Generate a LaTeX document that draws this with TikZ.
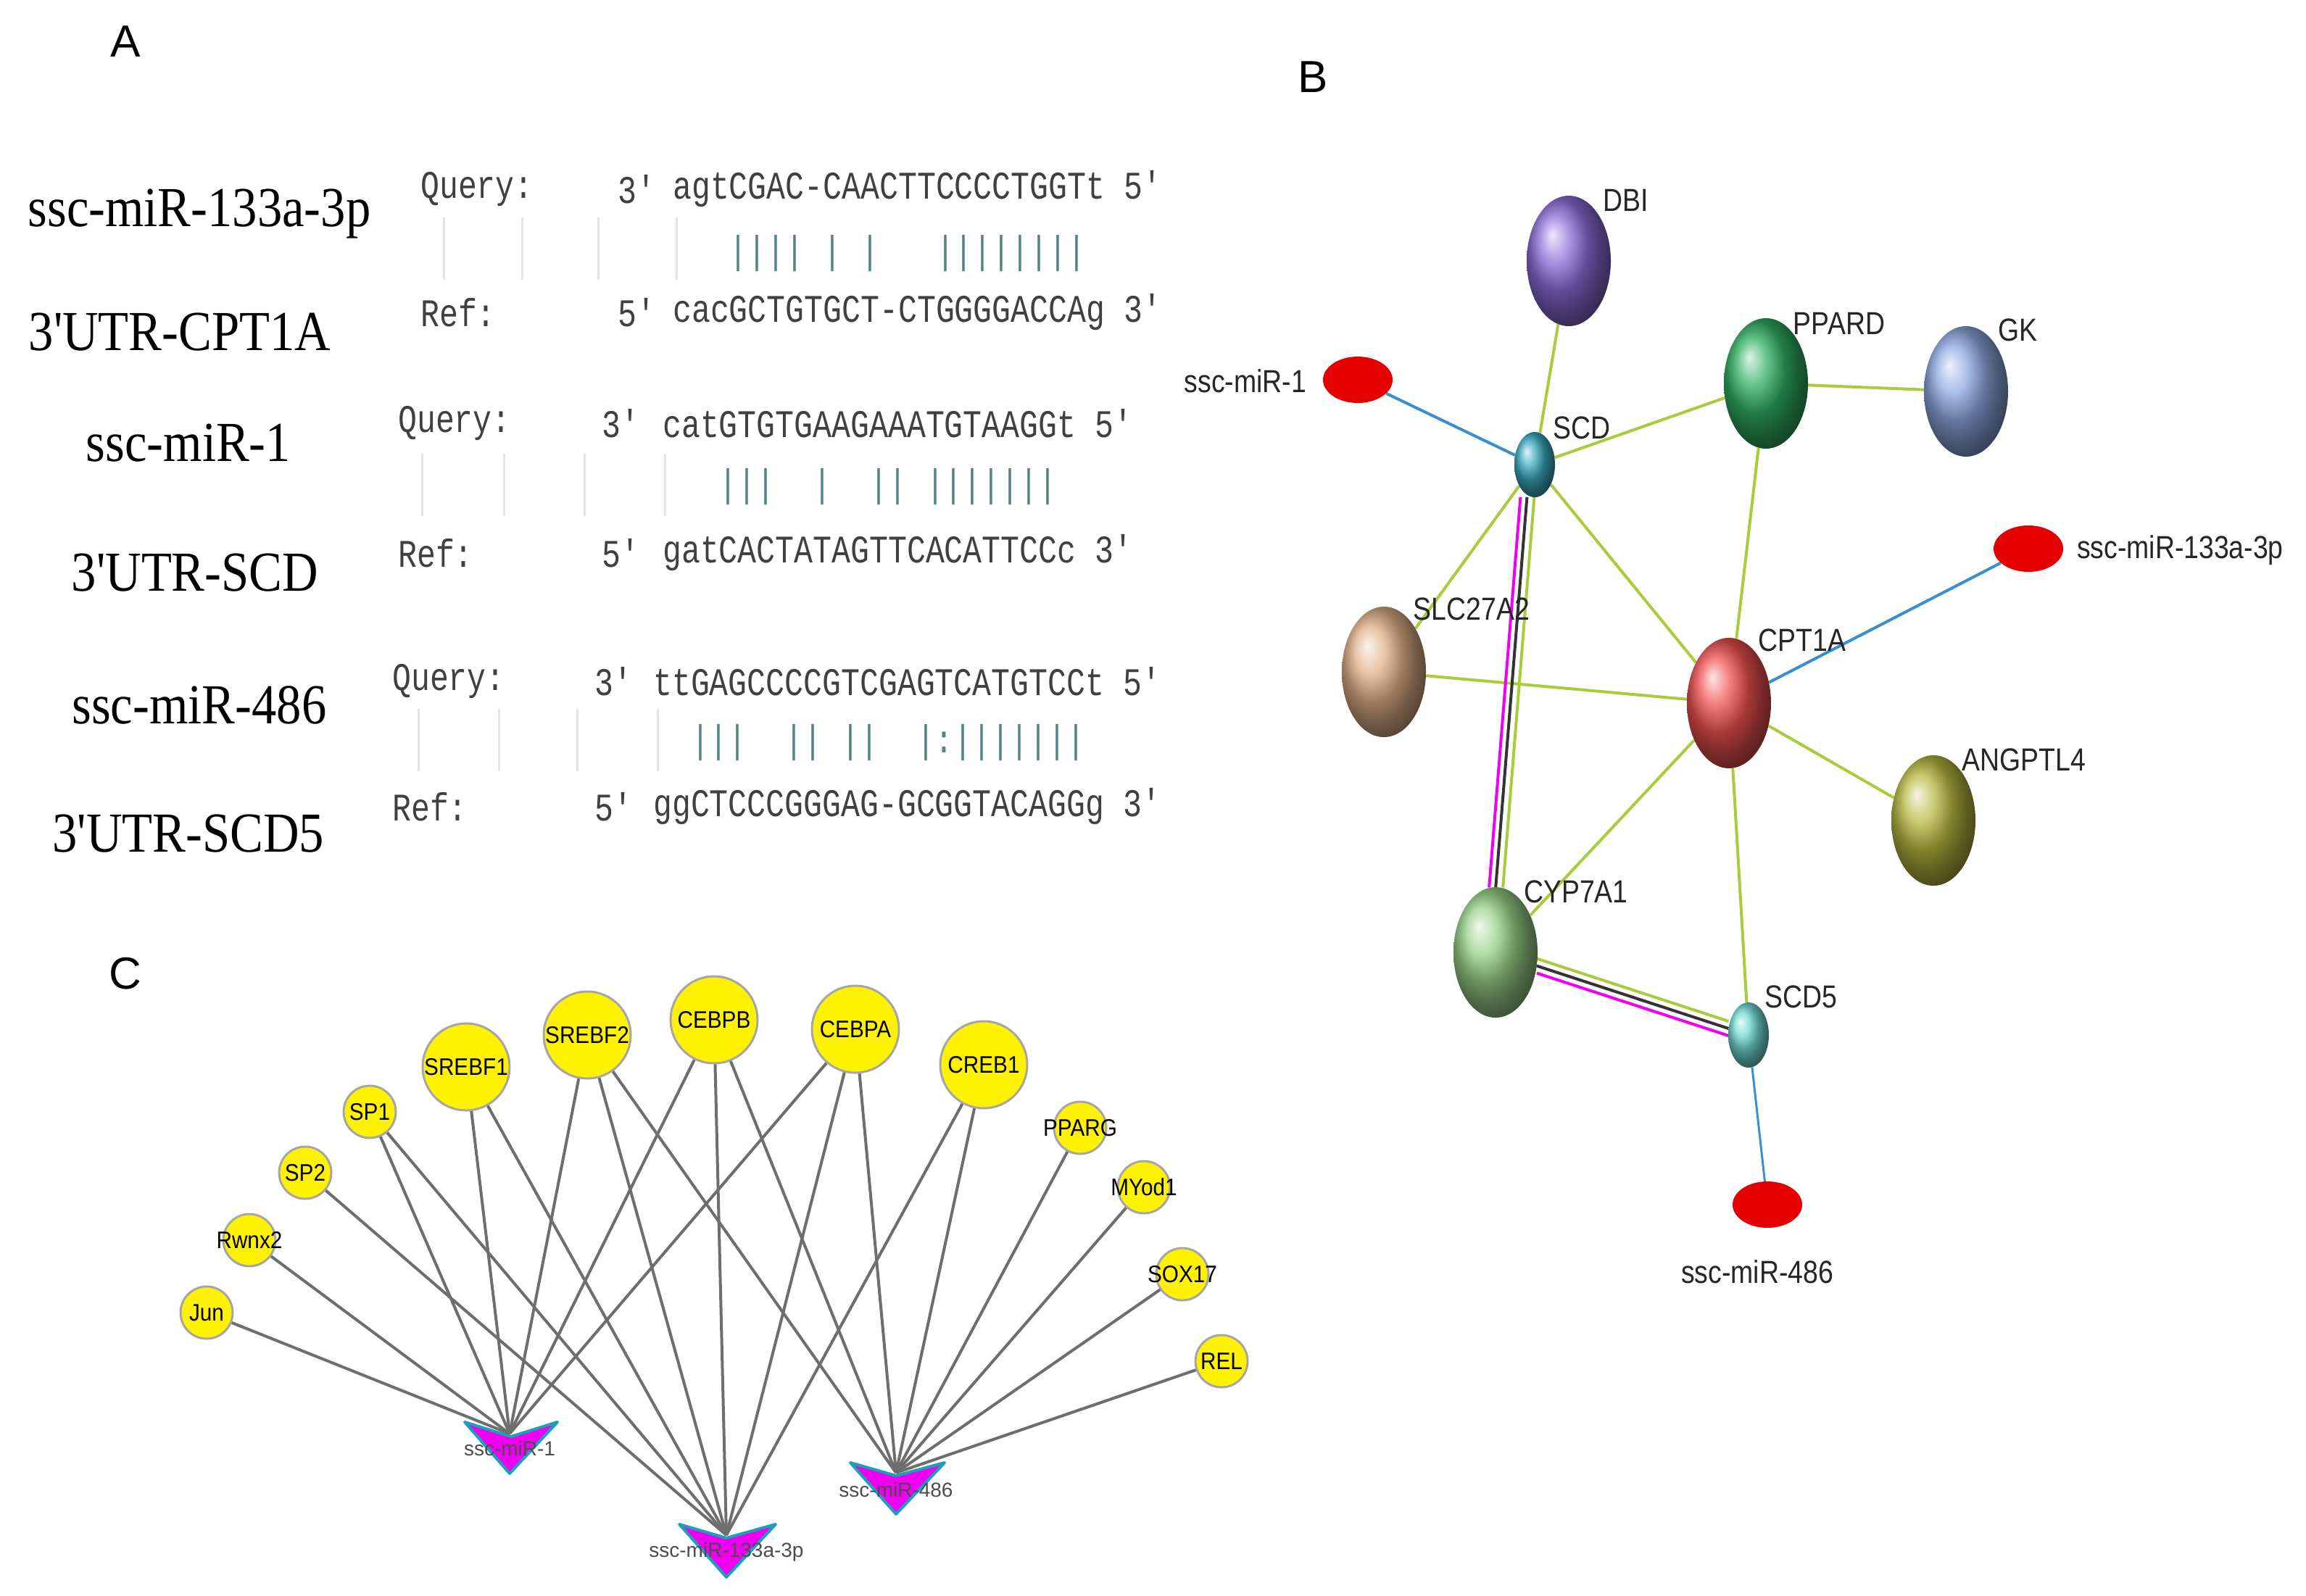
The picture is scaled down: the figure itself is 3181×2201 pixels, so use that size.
\documentclass[tikz,border=0pt]{standalone}
\usepackage{fontspec}
\setmainfont{Liberation Serif}
\newfontfamily\sansf{Liberation Sans}
\newfontfamily\monof{Liberation Mono}
\usetikzlibrary{shapes.geometric,backgrounds}
\definecolor{lg}{HTML}{A8CC3C}
\definecolor{lb}{HTML}{3A8FD0}
\definecolor{barc}{HTML}{4F8585}
\definecolor{eg}{HTML}{6E6E6E}
\definecolor{mag}{HTML}{F000F0}
\definecolor{cy}{HTML}{1AA0B8}
\definecolor{cdbi}{HTML}{8A6CD8}
\definecolor{cppard}{HTML}{2EB060}
\definecolor{cgk}{HTML}{8CA8E0}
\definecolor{cscd}{HTML}{3AAAC0}
\definecolor{cslc}{HTML}{E0B088}
\definecolor{ccpt}{HTML}{F05050}
\definecolor{cang}{HTML}{B8B840}
\definecolor{ccyp}{HTML}{98D088}
\definecolor{cscdf}{HTML}{70D8D0}
\def\s{\phantom{a}}
\def\ap{\textquotesingle}
\begin{document}
\begin{tikzpicture}[x=1pt,y=-1pt,
  panel/.style={font=\sansf\fontsize{62}{62}\selectfont},
  mlab/.style={font=\fontsize{78}{78}\selectfont, xscale=0.88},
  seq/.style={anchor=west, inner sep=0, font=\monof\fontsize{54}{54}\selectfont, xscale=0.8, text=black!75},
  bars/.style={seq, text=barc},
  faint/.style={draw=black!10, line width=3},
  ball/.style={ellipse, minimum width=116, minimum height=180, inner sep=0, draw=none},
  sball/.style={ellipse, minimum width=56, minimum height=90, inner sep=0, draw=none},
  mir/.style={ellipse, minimum width=96, minimum height=64, fill=red!90!black, inner sep=0},
  blab/.style={font=\sansf\fontsize{44}{44}\selectfont, xscale=0.85, text=black!85},
  gl/.style={lg, line width=4},
  bl/.style={lb, line width=4},
  yc/.style={circle, fill=yellow, draw=black!35, line width=3, inner sep=0},
  ysm/.style={yc, minimum size=72},
  ybg/.style={yc, minimum size=120},
  clab/.style={font=\sansf\fontsize{33}{33}\selectfont, xscale=0.9},
  ce/.style={eg, line width=4},
  tri/.style={fill=mag, draw=cy, line width=4, line join=round},
  tlab/.style={font=\sansf\fontsize{28}{28}\selectfont, text=black!70}
]
\useasboundingbox (0,0) rectangle (3181,2201);
% ---------- Panel A ----------
\node[panel] (pA) at (173,57) {A};
\node[mlab] (m1) at (275,295) {ssc-miR-133a-3p};
\node[mlab] (u1) at (248,458) {3\ap UTR-CPT1A};
\node[mlab] (m2) at (260,611) {ssc-miR-1};
\node[mlab] (u2) at (269,790) {3\ap UTR-SCD};
\node[mlab] (m3) at (275,973) {ssc-miR-486};
\node[mlab] (u3) at (260,1150) {3\ap UTR-SCD5};

\node[seq] (q1) at (580,261) {Query:};
\node[seq] (q1a) at (852,261) {3'};
\node[seq] (q1s) at (928,261) {agtCGAC-CAACTTCCCCTGGTt 5'};
\node[bars] (b1) at (928,350) {\s\s\s||||\s|\s|\s\s\s||||||||};
\node[seq] (r1) at (580,431) {Ref:};
\node[seq] (r1a) at (852,431) {5'};
\node[seq] (r1s) at (928,431) {cacGCTGTGCT-CTGGGGACCAg 3'};

\node[seq] (q2) at (549,584) {Query:};
\node[seq] (q2a) at (830,584) {3'};
\node[seq] (q2s) at (914,584) {catGTGTGAAGAAATGTAAGGt 5'};
\node[bars] (b2) at (914,672) {\s\s\s|||\s\s|\s\s||\s|||||||};
\node[seq] (r2) at (549,763) {Ref:};
\node[seq] (r2a) at (830,763) {5'};
\node[seq] (r2s) at (914,763) {gatCACTATAGTTCACATTCCc 3'};

\node[seq] (q3) at (541,940) {Query:};
\node[seq] (q3a) at (820,940) {3'};
\node[seq] (q3s) at (901,940) {ttGAGCCCCGTCGAGTCATGTCCt 5'};
\node[bars] (b3) at (901,1025) {\s\s|||\s\s||\s||\s\s|:|||||||};
\node[seq] (r3) at (541,1113) {Ref:};
\node[seq] (r3a) at (820,1113) {5'};
\node[seq] (r3s) at (901,1113) {ggCTCCCGGGAG-GCGGTACAGGg 3'};

\foreach \x in {612,720,825,933} \draw[faint] (\x,300) -- (\x,386);
\foreach \x in {582,695,806,917} \draw[faint] (\x,626) -- (\x,712);
\foreach \x in {577,688,796,907} \draw[faint] (\x,978) -- (\x,1064);

% ---------- Panel B ----------
\node[panel] (pB) at (1811,106) {B};
\node[ball, ball color=cdbi] (dbi) at (2164,360) {};
\node[ball, ball color=cppard] (ppard) at (2436,529) {};
\node[ball, ball color=cgk] (gk) at (2712,540) {};
\node[sball, ball color=cscd] (scd) at (2117,641) {};
\node[ball, ball color=cslc] (slc) at (1909,927) {};
\node[ball, ball color=ccpt] (cpt) at (2385,970) {};
\node[ball, ball color=cang] (ang) at (2667,1132) {};
\node[ball, ball color=ccyp] (cyp) at (2063,1314) {};
\node[sball, ball color=cscdf] (scd5) at (2412,1428) {};
\node[mir] (r1m) at (1873,524) {};
\node[mir] (r133) at (2798,757) {};
\node[mir] (r486) at (2438,1662) {};

\node[blab] (ldbi) at (2243,276) {DBI};
\node[blab] (lppard) at (2537,446) {PPARD};
\node[blab] (lgk) at (2783,455) {GK};
\node[blab] (lscd) at (2182,590) {SCD};
\node[blab] (lslc) at (2030,840) {SLC27A2};
\node[blab] (lcpt) at (2486,883) {CPT1A};
\node[blab] (lang) at (2792,1048) {ANGPTL4};
\node[blab] (lcyp) at (2174,1230) {CYP7A1};
\node[blab] (lscd5) at (2484,1375) {SCD5};
\node[blab, anchor=east] (lm1) at (1805,526) {ssc-miR-1};
\node[blab, anchor=west] (lm133) at (2862,759) {ssc-miR-133a-3p};
\node[blab] (lm486) at (2424,1755) {ssc-miR-486};

\begin{scope}[on background layer]
\draw[gl] (dbi) -- (scd);
\draw[gl] (scd) -- (ppard);
\draw[gl] (ppard) -- (gk);
\draw[gl] (ppard) -- (cpt);
\draw[gl] (scd) -- (slc);
\draw[gl] (scd) -- (cpt);
\draw[gl] (slc) -- (cpt);
\draw[gl] (cpt) -- (ang);
\draw[gl] (cpt) -- (cyp);
\draw[gl] (cpt) -- (scd5);
\draw[mag, line width=4, transform canvas={xshift=-16}] (scd) -- (cyp);
\draw[black!80, line width=4, transform canvas={xshift=-7}] (scd) -- (cyp);
\draw[gl, transform canvas={xshift=3}] (scd) -- (cyp);
\draw[mag, line width=4, transform canvas={yshift=-10}] (cyp) -- (scd5);
\draw[black!80, line width=4] (cyp) -- (scd5);
\draw[gl, transform canvas={yshift=10}] (cyp) -- (scd5);
\draw[bl] (r1m) -- (scd);
\draw[bl] (r133) -- (cpt);
\draw[bl, line width=3] (scd5) -- (r486);
\end{scope}

% ---------- Panel C ----------
\node[panel] (pC) at (173,1343) {C};
\node[ysm, label={[clab]center:Jun}] (jun) at (285,1811) {};
\node[ysm, label={[clab]center:Rwnx2}] (rw) at (344,1711) {};
\node[ysm, label={[clab]center:SP2}] (sp2) at (421,1618) {};
\node[ysm, label={[clab]center:SP1}] (sp1) at (510,1534) {};
\node[ybg, label={[clab]center:SREBF1}] (sr1) at (643,1472) {};
\node[ybg, label={[clab]center:SREBF2}] (sr2) at (810,1428) {};
\node[ybg, label={[clab]center:CEBPB}] (cb) at (985,1407) {};
\node[ybg, label={[clab]center:CEBPA}] (ca) at (1180,1420) {};
\node[ybg, label={[clab]center:CREB1}] (cr) at (1357,1469) {};
\node[ysm, label={[clab]center:PPARG}] (pg) at (1490,1556) {};
\node[ysm, label={[clab]center:MYod1}] (my) at (1578,1638) {};
\node[ysm, label={[clab]center:SOX17}] (sx) at (1631,1758) {};
\node[ysm, label={[clab]center:REL}] (rel) at (1685,1878) {};

\draw[tri] (641,1962) -- (705,1982) -- (769,1962) -- (703,2033) -- cycle;
\draw[tri] (937,2103) -- (1002,2122) -- (1070,2103) -- (1002,2176) -- cycle;
\draw[tri] (1173,2018) -- (1236,2036) -- (1303,2018) -- (1236,2089) -- cycle;
\coordinate (t1) at (703,1978);
\coordinate (t2) at (1002,2118);
\coordinate (t3) at (1236,2032);

\foreach \n in {jun,rw,sp1,sr1,sr2,cb,ca} \draw[ce] (\n) -- (t1);
\foreach \n in {sp2,sp1,sr1,sr2,cb,ca,cr} \draw[ce] (\n) -- (t2);
\foreach \n in {sr2,cb,ca,cr,pg,my,sx,rel} \draw[ce] (\n) -- (t3);

\node[tlab] (l1) at (703,1998) {ssc-miR-1};
\node[tlab] (l2) at (1002,2141) {ssc-miR-133a-3p};
\node[tlab] (l3) at (1236,2055) {ssc-miR-486};
\end{tikzpicture}
\end{document}
